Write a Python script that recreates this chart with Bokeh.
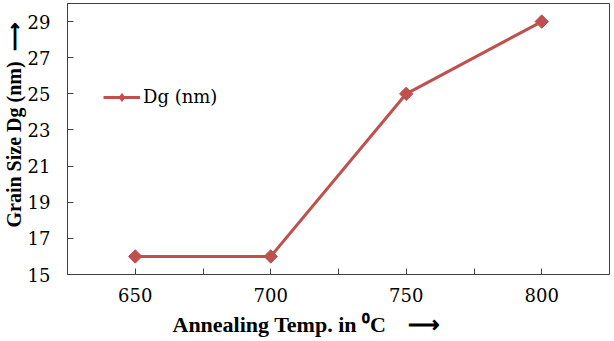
import math
from bokeh.plotting import figure
from bokeh.models import (Range1d, FixedTicker, Title, Legend, LegendItem, ColumnDataSource)
from bokeh.embed import file_html
from bokeh.resources import INLINE

temps = [650, 700, 750, 800]
grain_size = [16, 16, 25, 29]
x_ticks = [650, 675, 700, 725, 750, 775, 800]
x_tick_labels = {650: "650", 675: "", 700: "700", 725: "", 750: "750", 775: "", 800: "800"}
y_ticks = [15, 17, 19, 21, 23, 25, 27, 29]
series_name = "Dg (nm)"
x_title = "Annealing Temp. in \u2070C" + "\u00a0" * 4 + "\u27f6"
y_title = "Grain Size Dg (nm)" + "\u00a0" * 2 + "\u27f6"

RED = "#C0504D"
TFONT = "'Liberation Serif'"
LFONT = "DejaVu Serif"

p = figure(width=614, height=341, output_backend="svg", toolbar_location=None,
           x_range=Range1d(625, 825), y_range=Range1d(15, 30),
           min_border_left=67, min_border_right=5, min_border_top=3, min_border_bottom=67)
p.background_fill_color = "white"
p.border_fill_color = "white"
p.outline_line_color = "#404040"
p.outline_line_width = 1
p.xgrid.visible = False
p.ygrid.visible = False

p.axis.axis_line_color = "#404040"
p.axis.major_tick_line_color = "#404040"
p.axis.major_tick_in = 6
p.axis.major_tick_out = 0
p.axis.minor_tick_line_color = None
p.axis.major_label_text_font = LFONT
p.axis.major_label_text_font_size = "18px"
p.axis.major_label_text_color = "black"

p.xaxis.ticker = FixedTicker(ticks=x_ticks)
p.xaxis.major_label_overrides = x_tick_labels
p.xaxis.major_label_standoff = 13
p.yaxis.ticker = FixedTicker(ticks=y_ticks)
p.yaxis.major_label_standoff = 17

src = ColumnDataSource(dict(x=temps, y=grain_size))
p.line("x", "y", source=src, line_color=RED, line_width=3)
p.scatter("x", "y", source=src, marker="square", angle=math.pi / 4, size=9.5,
          fill_color=RED, line_color=RED)

# legend glyphs (outside the visible range; drawn only in the legend)
far = ColumnDataSource(dict(x=[0, 1], y=[0, 0]))
lg_line = p.line("x", "y", source=far, line_color=RED, line_width=3)
lg_mark = p.scatter("x", "y", source=far, marker="diamond", size=11,
                    fill_color=RED, line_color=RED)
legend = Legend(items=[LegendItem(label=series_name, renderers=[lg_line, lg_mark])],
                location=(36, 167), padding=0, margin=0, spacing=0,
                glyph_width=37, glyph_height=20, label_height=20, label_standoff=3,
                label_text_font=LFONT, label_text_font_size="18px",
                label_text_color="black",
                border_line_alpha=0, background_fill_alpha=0)
p.add_layout(legend, "center")

p.add_layout(Title(text=x_title, align="left", offset=105, text_font=TFONT,
                   text_font_size="22px", text_font_style="bold", text_color="black",
                   standoff=10), "below")
p.add_layout(Title(text=y_title, align="left", offset=47, text_font=TFONT,
                   text_font_size="20px", text_font_style="bold", text_color="black",
                   standoff=0), "left")

open("out.html", "w").write(file_html(p, INLINE))
